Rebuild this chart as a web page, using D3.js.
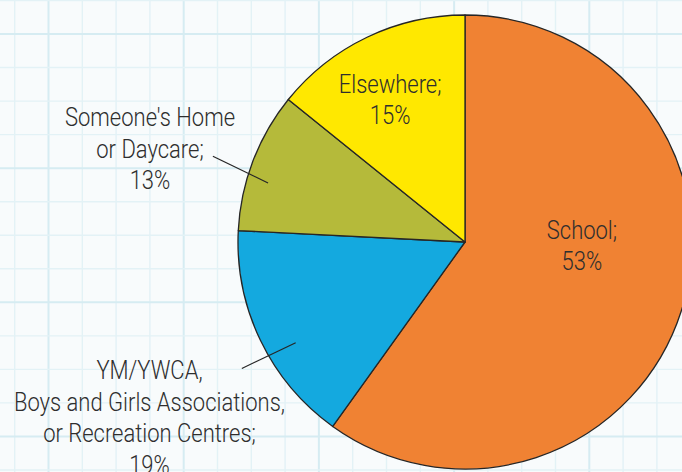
<!DOCTYPE html>
<html>
<head>
<meta charset="utf-8">
<script src="https://cdn.jsdelivr.net/npm/d3@7"></script>
<style>
  html, body { margin: 0; padding: 0; background: #f8fbfc; overflow: hidden; }
  svg { display: block; }
  text { font-family: "Roboto", "DejaVu Sans", sans-serif; font-weight: 300; fill: #2e2e2e; }
</style>
</head>
<body>
<svg id="chart" width="682" height="472"></svg>
<script>
// ---- data ----
const categories = ["School", "YM/YWCA, Boys and Girls Associations, or Recreation Centres", "Someone's Home or Daycare", "Elsewhere"];
// slice sizes as drawn in the picture (share of the circle, %)
const sliceValues = [59.9, 15.9, 10.0, 14.2];
// percentages printed in the labels
const labelPercents = [53, 19, 13, 15];
const labelLines = [
  ["School;"],
  ["YM/YWCA,", "Boys and Girls Associations,", "or Recreation Centres;"],
  ["Someone's Home", "or Daycare;"],
  ["Elsewhere;"]
];
const colors = ["#f08233", "#14a9df", "#b5ba3a", "#ffe800"];

// ---- layout ----
const W = 682, H = 472;
const cx = 465, cy = 242, R = 227;
const svg = d3.select("#chart");

// background grid
const gx = d3.scaleLinear().domain([0, 19]).range([14.7, 656.9]);
const gy = d3.scaleLinear().domain([0, 13]).range([34, 470]);
const grid = svg.append("g");
grid.append("rect").attr("width", W).attr("height", H).attr("fill", "#f8fbfc");
d3.range(-1, 21).forEach(k => {
  const major = ((k - 1) % 4 === 0);
  grid.append("line")
    .attr("x1", gx(k)).attr("x2", gx(k)).attr("y1", 0).attr("y2", H)
    .attr("stroke", major ? "#d6ecf2" : "#e3f2f6")
    .attr("stroke-width", major ? 2 : 1.4);
});
d3.range(-1, 15).forEach(k => {
  const major = (k % 4 === 0);
  grid.append("line")
    .attr("y1", gy(k)).attr("y2", gy(k)).attr("x1", 0).attr("x2", W)
    .attr("stroke", major ? "#d6ecf2" : "#e3f2f6")
    .attr("stroke-width", major ? 2 : 1.4);
});

// pie
const pie = d3.pie().sort(null).value(d => d)(sliceValues);
const arc = d3.arc().innerRadius(0).outerRadius(R);
const g = svg.append("g").attr("transform", `translate(${cx},${cy})`);
g.selectAll("path").data(pie).join("path")
  .attr("d", arc)
  .attr("fill", (d, i) => colors[i])
  .attr("stroke", "#262626")
  .attr("stroke-width", 1.3)
  .attr("stroke-linejoin", "round");

const deg = Math.PI / 180;
const lh = 31.6;
const fs = 25;
const sx = 0.88; // horizontal condensing of the label face

function drawBlock(lines, x, yTop) {
  const t = svg.append("text")
    .attr("text-anchor", "middle")
    .attr("font-size", fs)
    .attr("transform", `translate(${x},0) scale(${sx},1)`);
  lines.forEach((s, j) => {
    t.append("tspan").attr("x", 0).attr("y", yTop + j * lh).text(s);
  });
}

// inside labels: anchor at polar position (angle deg, radius) from centre
const insideLayout = { 0: { angle: 92, r: 117 }, 3: { angle: -27.8, r: 160.6 } };
Object.keys(insideLayout).forEach(key => {
  const i = +key, L = insideLayout[i];
  const [px, py] = d3.pointRadial(L.angle * deg, L.r);
  const lines = labelLines[i].concat([labelPercents[i] + "%"]);
  const first = cy + py - (lines.length - 1) * lh / 2 + 8.5;
  drawBlock(lines, cx + px, first);
});

// outside labels: leader lines (angle offset from slice middle, radius)
const leaderLayout = {
  1: [{ a: -5.0, r: 197 }, { a: -3.8, r: 256.5 }],
  2: [{ a: -4.2, r: 205.6 }, { a: -2.1, r: 266.3 }]
};
Object.keys(leaderLayout).forEach(key => {
  const i = +key, L = leaderLayout[i];
  const mid = (pie[i].startAngle + pie[i].endAngle) / 2;
  const p1 = d3.pointRadial(mid + L[0].a * deg, L[0].r);
  const p2 = d3.pointRadial(mid + L[1].a * deg, L[1].r);
  svg.append("line")
    .attr("x1", cx + p1[0]).attr("y1", cy + p1[1])
    .attr("x2", cx + p2[0]).attr("y2", cy + p2[1])
    .attr("stroke", "#262626").attr("stroke-width", 1.2);
});
drawBlock(labelLines[1].concat([labelPercents[1] + "%"]), 149.5, 379.3);
drawBlock(labelLines[2].concat([labelPercents[2] + "%"]), 150, 126);
</script>
</body>
</html>
